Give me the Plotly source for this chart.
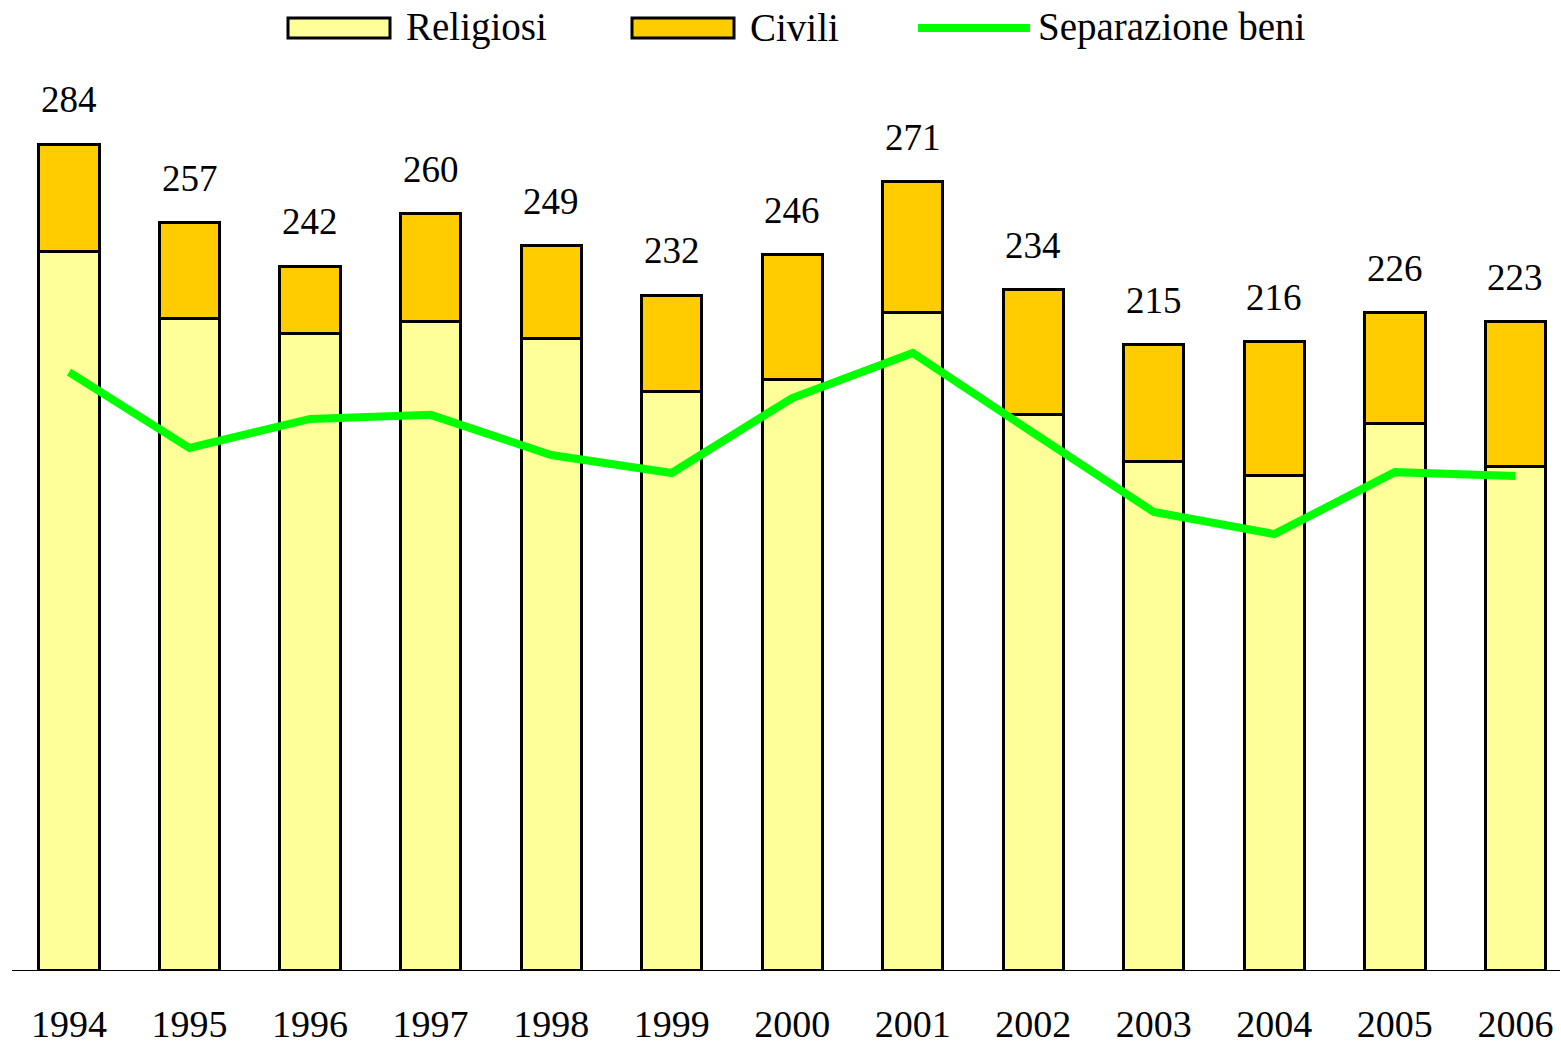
import plotly.graph_objects as go

years = ["1994", "1995", "1996", "1997", "1998", "1999", "2000",
         "2001", "2002", "2003", "2004", "2005", "2006"]
religiosi = [247, 224, 219, 223, 217, 199, 203, 226, 191, 175, 170, 188, 173]
civili = [37, 33, 23, 37, 32, 33, 43, 45, 43, 40, 46, 38, 50]
totali = [284, 257, 242, 260, 249, 232, 246, 271, 234, 215, 216, 226, 223]
separazione_beni = [205.6, 179.5, 189.5, 190.9, 177.1, 170.9, 196.7,
                    212.2, 184.7, 157.5, 149.9, 171.2, 169.9]

FONT = "Liberation Serif, Times New Roman, serif"
C_REL = "#FFFF99"
C_CIV = "#FFCC00"
C_LINE = "#00FF00"

W, H = 1561, 1044
ML, MR, MT, MB = 12, 1, 0, 74
PW, PH = W - ML - MR, H - MT - MB

fig = go.Figure()
fig.add_trace(go.Bar(x=years, y=religiosi, name="Religiosi", width=0.5,
                     marker=dict(color=C_REL, line=dict(color="black", width=3)),
                     showlegend=False))
fig.add_trace(go.Bar(x=years, y=civili, name="Civili", width=0.5,
                     marker=dict(color=C_CIV, line=dict(color="black", width=3)),
                     showlegend=False))
fig.add_trace(go.Scatter(x=years, y=separazione_beni, name="Separazione beni",
                         mode="lines", line=dict(color=C_LINE, width=8),
                         showlegend=False))

for i, tot in enumerate(totali):
    fig.add_annotation(x=i, y=tot, xref="x", yref="y", text=str(tot),
                       showarrow=False, yanchor="bottom", yshift=22,
                       font=dict(family=FONT, size=37, color="black"))

# custom legend (positions in page pixels converted to paper coords)
def px(x):
    return (x - ML) / PW
def py(y):
    return (MT + PH - y) / PH

leg_y = 28
for x0, x1, col, label in [(288, 390, C_REL, "Religiosi"), (632, 734, C_CIV, "Civili")]:
    fig.add_shape(type="rect", xref="paper", yref="paper",
                  x0=px(x0), x1=px(x1), y0=py(leg_y + 10), y1=py(leg_y - 10),
                  fillcolor=col, line=dict(color="black", width=3))
    fig.add_annotation(xref="paper", yref="paper", x=px(x1 + 14), y=py(leg_y - 1),
                       text=label, showarrow=False, xanchor="left", yanchor="middle",
                       font=dict(family=FONT, size=39, color="black"))
fig.add_shape(type="line", xref="paper", yref="paper",
              x0=px(918), x1=px(1030), y0=py(leg_y), y1=py(leg_y),
              line=dict(color=C_LINE, width=8))
fig.add_annotation(xref="paper", yref="paper", x=px(1036), y=py(leg_y - 1),
                   text="Separazione beni", showarrow=False, xanchor="left", yanchor="middle",
                   font=dict(family=FONT, size=39, color="black"))

fig.update_layout(
    width=W, height=H,
    barmode="stack",
    plot_bgcolor="white", paper_bgcolor="white",
    margin=dict(l=ML, r=MR, t=MT, b=MB, autoexpand=False),
    font=dict(family=FONT, size=36, color="black"),
    xaxis=dict(type="category", range=[-0.473, 12.37], showline=True,
               linecolor="black", linewidth=1, ticks="", showgrid=False,
               automargin=False,
               tickfont=dict(family=FONT, size=38), ticklabelstandoff=20),
    yaxis=dict(range=[0, PH / 2.908], visible=False, showgrid=False),
)

fig.write_html("out.html",
               config={"displayModeBar": False},
               post_script="document.body.style.margin='0';document.body.style.overflow='hidden';")
